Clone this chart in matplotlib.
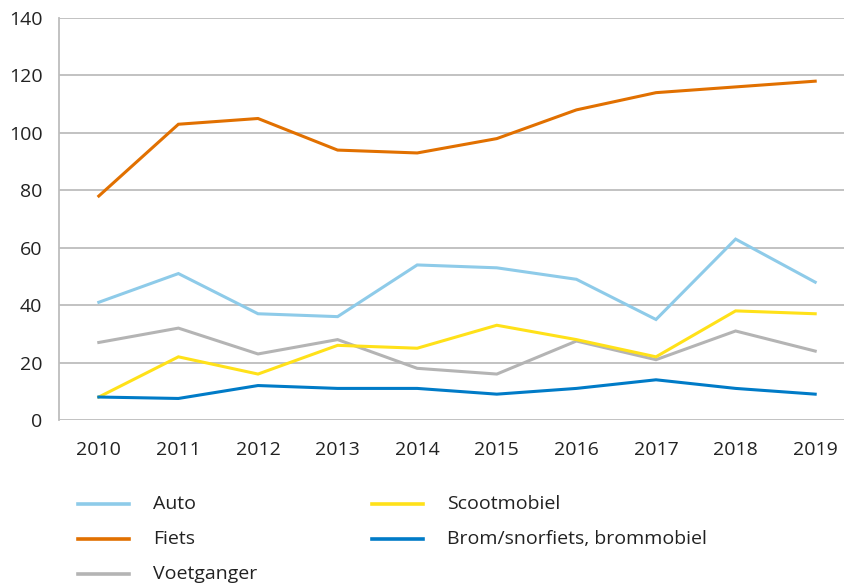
import matplotlib
matplotlib.use("Agg")
import matplotlib.pyplot as plt
from matplotlib.lines import Line2D

years = ["2010", "2011", "2012", "2013", "2014", "2015", "2016", "2017", "2018", "2019"]
auto = [41, 51, 37, 36, 54, 53, 49, 35, 63, 48]
fiets = [78, 103, 105, 94, 93, 98, 108, 114, 116, 118]
voetganger = [27, 32, 23, 28, 18, 16, 27.5, 21, 31, 24]
scootmobiel = [8, 22, 16, 26, 25, 33, 28, 22, 38, 37]
brom = [8, 7.5, 12, 11, 11, 9, 11, 14, 11, 9]

labels = ["Auto", "Fiets", "Voetganger", "Scootmobiel", "Brom/snorfiets, brommobiel"]
series = [auto, fiets, voetganger, scootmobiel, brom]
colors = ["#8ECBE9", "#E17000", "#B4B4B4", "#FFE119", "#007BC7"]
yticks = [0, 20, 40, 60, 80, 100, 120, 140]

plt.rcParams['font.family'] = ['Open Sans', 'DejaVu Sans']
W, H = 844, 585
fig = plt.figure(figsize=(W / 100, H / 100), dpi=100)
ax = fig.add_axes([59 / W, 1 - 420 / H, (W - 59) / W, (420 - 18) / H])

x = list(range(len(years)))
for s, c, l in zip(series, colors, labels):
    ax.plot(x, s, color=c, lw=2.2, label=l, solid_joinstyle='miter', clip_on=False, zorder=3)

ax.set_ylim(0, 140)
ax.set_xlim(-0.5, (W - 59) / 79.6 - 0.5)
ax.set_yticks(yticks)
ax.set_yticklabels([str(v) for v in yticks], fontsize=14, color="#222222")
ax.set_xticks(x)
ax.set_xticklabels(years, fontsize=14, color="#222222")
ax.tick_params(axis='both', length=0)
ax.tick_params(axis='y', pad=12)
ax.tick_params(axis='x', pad=15)
ax.grid(axis='y', color="#BDBDBD", lw=1.3)
ax.set_axisbelow(True)
for sp in ['top', 'right', 'bottom']:
    ax.spines[sp].set_visible(False)
ax.spines['left'].set_color("#BDBDBD")
ax.spines['left'].set_linewidth(1.3)

# legend drawn manually: two columns
pos = [(78, 504), (78, 539), (78, 574), (372, 504), (372, 539)]
for (px, py), c, l in zip(pos, colors, labels):
    fig.add_artist(Line2D([px / W, (px + 51) / W], [1 - py / H, 1 - py / H], color=c, lw=2.6))
    fig.text((px + 75) / W, 1 - py / H, l, fontsize=14, va='center', ha='left', color="#222222")

fig.savefig("out.png", dpi=100)
